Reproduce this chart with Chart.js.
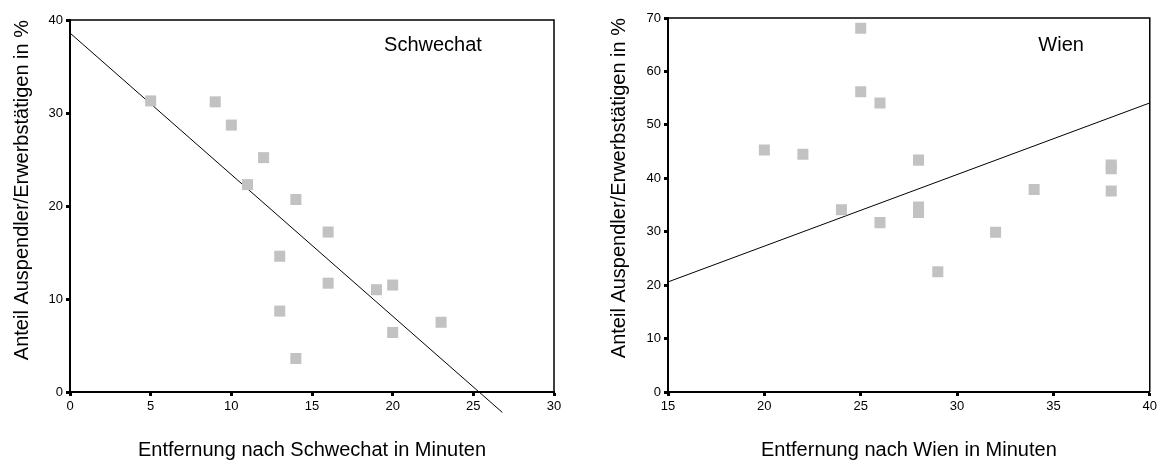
<!DOCTYPE html>
<html>
<head>
<meta charset="utf-8">
<script src="https://cdn.jsdelivr.net/npm/chart.js@4/dist/chart.umd.min.js"></script>
<style>
    body { margin: 0; background: #fff; }
    #wrap { position: relative; width: 1160px; height: 462px; }
    canvas { position: absolute; top: 0; }
</style>
</head>
<body>
<div id="wrap">
    <canvas id="schwechat" width="580" height="462" style="left:0"></canvas>
    <canvas id="wien" width="580" height="462" style="left:580px"></canvas>
</div>
<script>
// Schwechat: distance (minutes) vs. share of commuters (%)
const schwechatMinutes = [5, 9, 10, 11, 12, 13, 13, 14, 14, 16, 16, 19, 20, 20, 23];
const schwechatShare = [31.3, 31.2, 28.7, 22.3, 25.2, 14.6, 8.7, 20.7, 3.6, 17.2, 11.7, 11.0, 11.5, 6.4, 7.5];
const schwechatFitX = [0, 26.8];
const schwechatFitY = [38.6, -2.2];
const schwechatTicksX = [0, 5, 10, 15, 20, 25, 30];
const schwechatTicksY = [0, 10, 20, 30, 40];

// Wien
const wienMinutes = [20, 22, 24, 25, 25, 26, 26, 28, 28, 28, 29, 32, 34, 38, 38, 38];
const wienShare = [45.3, 44.5, 34.1, 68.1, 56.2, 54.1, 31.7, 43.4, 34.6, 33.6, 22.5, 29.9, 37.9, 42.5, 41.8, 37.6];
const wienFitX = [15, 40];
const wienFitY = [20.6, 54.1];
const wienTicksX = [15, 20, 25, 30, 35, 40];
const wienTicksY = [0, 10, 20, 30, 40, 50, 60, 70];

const yTitle = "Anteil Auspendler/Erwerbstätigen in %";
const fontFamily = "Arial, 'Liberation Sans', sans-serif";

function toPoints(xs, ys) {
    return xs.map((x, i) => ({ x: x, y: ys[i] }));
}

// frame on top/right and the place label inside the plot
const framePlugin = {
    id: "frame",
    afterDraw(chart, args, opts) {
        const { ctx, chartArea: a, scales } = chart;
        ctx.save();
        ctx.strokeStyle = "#000";
        ctx.lineWidth = 1.5;
        ctx.beginPath();
        ctx.moveTo(a.left, a.top);
        ctx.lineTo(a.right, a.top);
        ctx.lineTo(a.right, a.bottom);
        ctx.stroke();
        ctx.fillStyle = "#000";
        ctx.font = "20px " + fontFamily;
        ctx.textAlign = "center";
        ctx.textBaseline = "alphabetic";
        ctx.fillText(opts.text, scales.x.getPixelForValue(opts.x), scales.y.getPixelForValue(opts.y));
        ctx.restore();
    }
};

function makeChart(id, cfg) {
    const tickFont = { family: fontFamily, size: 13 };
    const titleFont = { family: fontFamily, size: 20 };
    return new Chart(document.getElementById(id), {
        type: "scatter",
        data: {
            datasets: [
                {
                    data: toPoints(cfg.xs, cfg.ys),
                    pointStyle: "rect",
                    pointRadius: 7.8,
                    pointHoverRadius: 7.8,
                    backgroundColor: "#c2c2c2",
                    borderWidth: 0
                },
                {
                    data: toPoints(cfg.fitX, cfg.fitY),
                    showLine: true,
                    pointRadius: 0,
                    borderColor: "#000",
                    borderWidth: 1,
                    clip: false
                }
            ]
        },
        options: {
            responsive: false,
            animation: false,
            layout: { padding: cfg.padding },
            plugins: {
                legend: { display: false },
                tooltip: { enabled: false },
                frame: cfg.label
            },
            scales: {
                x: {
                    type: "linear",
                    min: cfg.ticksX[0],
                    max: cfg.ticksX[cfg.ticksX.length - 1],
                    afterBuildTicks: (s) => { s.ticks = cfg.ticksX.map(v => ({ value: v })); },
                    afterFit: (s) => { s.height = 70; },
                    ticks: { font: tickFont, color: "#000", padding: 3 },
                    grid: { drawOnChartArea: false, tickLength: 4, tickWidth: 3, tickColor: "#000" },
                    border: { color: "#000", width: 2 },
                    title: { display: true, text: cfg.xTitle, font: titleFont, color: "#000", padding: { top: 0, bottom: 0 } }
                },
                y: {
                    type: "linear",
                    min: cfg.ticksY[0],
                    max: cfg.ticksY[cfg.ticksY.length - 1],
                    afterBuildTicks: (s) => { s.ticks = cfg.ticksY.map(v => ({ value: v })); },
                    afterFit: (s) => { s.width = cfg.yWidth; },
                    ticks: { font: tickFont, color: "#000", padding: 3 },
                    grid: { drawOnChartArea: false, tickLength: 4, tickWidth: 3, tickColor: "#000" },
                    border: { color: "#000", width: 2 },
                    title: { display: true, text: yTitle, font: titleFont, color: "#000", align: "end", padding: { top: cfg.yTitlePad, bottom: 0 } }
                }
            }
        },
        plugins: [framePlugin]
    });
}

makeChart("schwechat", {
    xs: schwechatMinutes, ys: schwechatShare,
    fitX: schwechatFitX, fitY: schwechatFitY,
    ticksX: schwechatTicksX, ticksY: schwechatTicksY,
    xTitle: "Entfernung nach Schwechat in Minuten",
    yWidth: 70, yTitlePad: 10,
    padding: { left: 0, right: 26, top: 20, bottom: 0 },
    label: { text: "Schwechat", x: 22.5, y: 36.7 }
});

makeChart("wien", {
    xs: wienMinutes, ys: wienShare,
    fitX: wienFitX, fitY: wienFitY,
    ticksX: wienTicksX, ticksY: wienTicksY,
    xTitle: "Entfernung nach Wien in Minuten",
    yWidth: 88, yTitlePad: 27,
    padding: { left: 0, right: 8, top: 18, bottom: 0 },
    label: { text: "Wien", x: 35.4, y: 63.8 }
});
</script>
</body>
</html>
